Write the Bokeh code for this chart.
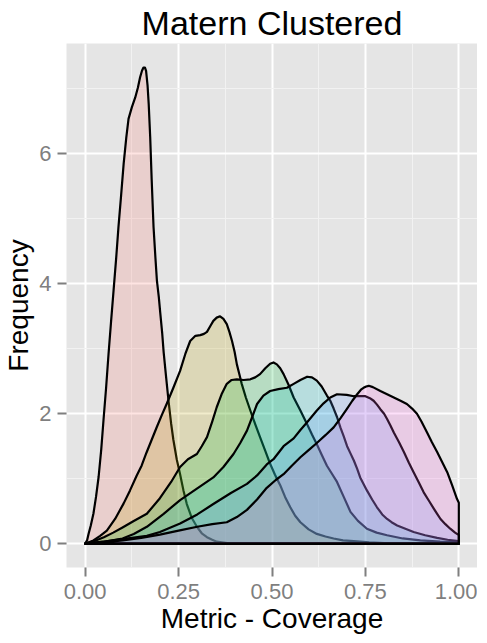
from bokeh.plotting import figure
from bokeh.models import Range1d, FixedTicker, NumeralTickFormatter, Title
from bokeh.embed import file_html
from bokeh.resources import INLINE

title_text = "Matern Clustered"
x_label = "Metric - Coverage"
y_label = "Frequency"

x_ticks = [0, 0.25, 0.5, 0.75, 1.0]
x_minor = [0.125, 0.375, 0.625, 0.875]
y_ticks = [0, 2, 4, 6]
y_minor = [1, 3, 5, 7]

colors = ["#F8766D", "#B79F00", "#00BA38", "#00BFC4", "#619CFF", "#F564E3"]

red_x = [0, .005, .009, .015, .022, .029, .036, .043, .049, .056, .0625, .069, .076, .083, .089, .096, .103, .11, .116, .125, .134, .141, .147, .152, .156, .16, .163, .167, .17, .174, .178, .183, .188, .192, .197, .201, .206, .21, .216, .223, .23, .236, .245, .254, .263, .272, .285, .299, .312, .326, .34, .352, .38, .42, 1.0]
red_y = [0, .05, .15, .28, .46, .72, 1.03, 1.45, 1.9, 2.4, 2.92, 3.4, 3.9, 4.4, 4.87, 5.35, 5.85, 6.25, 6.54, 6.72, 6.87, 7.02, 7.18, 7.28, 7.33, 7.33, 7.28, 7.05, 6.77, 6.26, 5.6, 4.87, 4.4, 4.05, 3.8, 3.55, 3.25, 2.95, 2.6, 2.2, 1.85, 1.6, 1.3, 1.07, .82, .61, .4, .26, .16, .10, .06, .03, .01, 0, 0]

olive_x = [0, .022, .04, .058, .08, .103, .12, .138, .151, .164, .178, .192, .205, .218, .236, .254, .268, .281, .295, .308, .318, .326, .335, .343, .352, .361, .37, .379, .386, .393, .4, .406, .413, .419, .43, .442, .455, .468, .482, .495, .508, .522, .535, .549, .562, .576, .598, .62, .643, .665, .69, .719, .76, .8, 1.0]
olive_y = [0, .05, .12, .2, .38, .62, .82, 1.05, 1.2, 1.4, 1.6, 1.8, 1.98, 2.15, 2.4, 2.66, 2.92, 3.12, 3.2, 3.21, 3.23, 3.26, 3.35, 3.43, 3.48, 3.5, 3.46, 3.38, 3.26, 3.12, 2.95, 2.76, 2.6, 2.46, 2.25, 2.05, 1.84, 1.64, 1.43, 1.23, 1.06, .9, .72, .56, .43, .33, .22, .15, .11, .08, .05, .04, .02, .01, 0]

green_x = [0, .025, .05, .075, .1, .13, .165, .2, .23, .254, .275, .299, .312, .326, .34, .352, .365, .379, .392, .406, .424, .442, .455, .468, .482, .495, .504, .513, .522, .531, .544, .558, .576, .594, .607, .62, .633, .647, .66, .674, .692, .71, .73, .754, .78, .808, .85, .897, .95, 1.0]
green_y = [0, .04, .1, .17, .25, .35, .46, .7, .95, 1.18, 1.3, 1.38, 1.5, 1.64, 1.88, 2.1, 2.3, 2.46, 2.52, 2.53, 2.52, 2.53, 2.56, 2.61, 2.7, 2.77, 2.79, 2.76, 2.7, 2.61, 2.45, 2.25, 2.05, 1.84, 1.68, 1.53, 1.37, 1.2, 1.08, .95, .72, .49, .35, .23, .17, .13, .08, .05, .03, .02]

teal_x = [0, .05, .1, .13, .165, .21, .254, .3, .343, .37, .397, .415, .433, .447, .46, .477, .495, .517, .54, .558, .576, .594, .607, .62, .633, .647, .656, .665, .674, .683, .692, .701, .71, .719, .728, .736, .745, .754, .768, .781, .795, .808, .82, .835, .857, .879, .91, .942, .97, 1.0]
teal_y = [0, .03, .08, .15, .26, .46, .67, .85, 1.02, 1.18, 1.38, 1.55, 1.74, 1.95, 2.15, 2.28, 2.35, 2.38, 2.4, 2.46, 2.52, 2.57, 2.56, 2.51, 2.42, 2.28, 2.2, 2.08, 1.95, 1.79, 1.65, 1.5, 1.39, 1.28, 1.15, 1.02, .92, .82, .68, .56, .45, .38, .33, .28, .23, .18, .13, .09, .06, .04]

blue_x = [0, .05, .1, .165, .2, .254, .3, .343, .39, .433, .46, .486, .504, .531, .558, .576, .594, .62, .638, .656, .674, .7, .719, .735, .75, .762, .772, .781, .79, .8, .808, .817, .826, .84, .853, .866, .879, .893, .906, .92, .933, .942, .951, .964, .977, .99, 1.0]
blue_y = [0, .03, .07, .12, .18, .31, .45, .61, .78, .92, 1.05, 1.22, 1.3, 1.5, 1.62, 1.75, 1.87, 2.05, 2.16, 2.25, 2.3, 2.29, 2.27, 2.27, 2.27, 2.24, 2.2, 2.14, 2.07, 2.0, 1.92, 1.82, 1.71, 1.56, 1.41, 1.25, 1.1, .94, .79, .66, .54, .46, .38, .3, .23, .17, .13]

purple_x = [0, .05, .1, .15, .2, .25, .3, .34, .379, .406, .433, .46, .486, .51, .531, .553, .576, .598, .62, .643, .665, .683, .701, .715, .728, .738, .745, .752, .759, .77, .79, .808, .826, .844, .861, .875, .888, .9, .915, .928, .942, .955, .969, .982, .995, 1.0]
purple_y = [0, .02, .05, .09, .14, .2, .26, .3, .33, .41, .52, .68, .86, .98, 1.07, 1.2, 1.33, 1.44, 1.55, 1.67, 1.79, 1.93, 2.08, 2.2, 2.3, 2.37, 2.4, 2.42, 2.43, 2.41, 2.35, 2.3, 2.25, 2.2, 2.15, 2.08, 2.0, 1.88, 1.71, 1.56, 1.41, 1.26, 1.1, .9, .69, .63]

series = [(red_x, red_y), (olive_x, olive_y), (green_x, green_y),
          (teal_x, teal_y), (blue_x, blue_y), (purple_x, purple_y)]

FONT = "Liberation Sans"

p = figure(frame_width=411, frame_height=524, output_backend="svg", toolbar_location=None,
           x_range=Range1d(-0.05, 1.05), y_range=Range1d(-0.367, 7.70),
           min_border_left=62, min_border_right=0, min_border_top=38, min_border_bottom=60)
p.outline_line_color = None
p.background_fill_color = "#E5E5E5"
p.border_fill_color = "white"

p.add_layout(Title(text=title_text, align="center", text_font=FONT, text_font_size="34px",
                   text_font_style="normal", text_color="black", standoff=3, offset=0), "above")

p.xaxis.ticker = FixedTicker(ticks=x_ticks, minor_ticks=x_minor)
p.yaxis.ticker = FixedTicker(ticks=y_ticks, minor_ticks=y_minor)
p.xaxis.formatter = NumeralTickFormatter(format="0.00")

for g in (p.xgrid, p.ygrid):
    g.grid_line_color = "white"
    g.grid_line_width = 2
    g.minor_grid_line_color = "#F2F2F2"
    g.minor_grid_line_width = 1

for ax in (p.xaxis, p.yaxis):
    ax.axis_line_color = None
    ax.major_tick_line_color = "#7F7F7F"
    ax.major_tick_line_width = 2
    ax.major_tick_out = 9
    ax.major_tick_in = 0
    ax.minor_tick_line_color = None
    ax.major_label_text_font = FONT
    ax.major_label_text_font_size = "22px"
    ax.major_label_text_color = "#7F7F7F"
    ax.axis_label_text_font = FONT
    ax.axis_label_text_font_size = "28px"
    ax.axis_label_text_font_style = "normal"
    ax.axis_label_text_color = "black"

p.xaxis.axis_label = x_label
p.yaxis.axis_label = y_label
p.xaxis.major_label_standoff = 7
p.xaxis.axis_label_standoff = 1
p.yaxis.major_label_standoff = 6
p.yaxis.axis_label_standoff = 2

for (xs, ys), c in zip(series, colors):
    px = list(xs) + [xs[-1]]
    py = list(ys) + [0]
    p.patch(px, py, fill_color=c, fill_alpha=0.2, line_color="black", line_width=2.2,
            line_join="round")

open("out.html", "w").write(file_html(p, INLINE))
